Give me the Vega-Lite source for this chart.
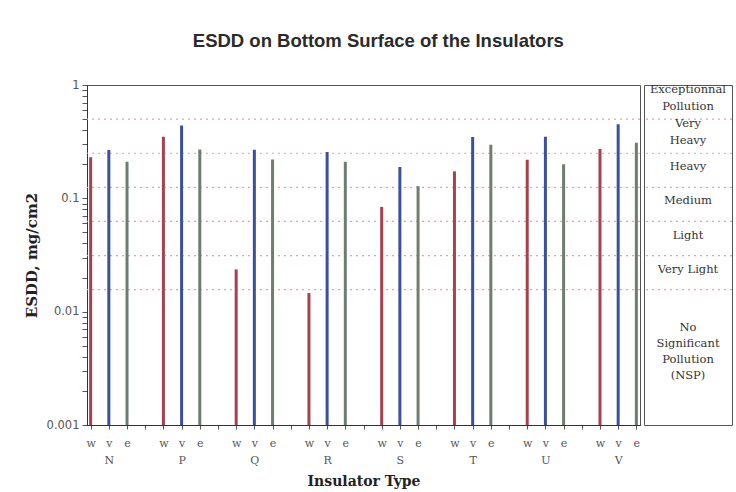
{
  "$schema": "https://vega.github.io/schema/vega-lite/v6.json",
  "padding": {"left": 23, "top": 32, "right": 5, "bottom": 5},
  "background": "white",
  "title": {"text": "ESDD on Bottom Surface of the Insulators", "font": "Liberation Sans", "fontSize": 18.5, "fontWeight": "bold", "color": "#2a2a2a", "anchor": "middle", "offset": 28, "dx": 0},
  "datasets": {
    "esdd": [
      {"insulator": "N", "type": "w", "esdd": 0.23}, {"insulator": "N", "type": "v", "esdd": 0.267}, {"insulator": "N", "type": "e", "esdd": 0.21},
      {"insulator": "P", "type": "w", "esdd": 0.35}, {"insulator": "P", "type": "v", "esdd": 0.44}, {"insulator": "P", "type": "e", "esdd": 0.27},
      {"insulator": "Q", "type": "w", "esdd": 0.0236}, {"insulator": "Q", "type": "v", "esdd": 0.268}, {"insulator": "Q", "type": "e", "esdd": 0.22},
      {"insulator": "R", "type": "w", "esdd": 0.0146}, {"insulator": "R", "type": "v", "esdd": 0.256}, {"insulator": "R", "type": "e", "esdd": 0.21},
      {"insulator": "S", "type": "w", "esdd": 0.084}, {"insulator": "S", "type": "v", "esdd": 0.189}, {"insulator": "S", "type": "e", "esdd": 0.128},
      {"insulator": "T", "type": "w", "esdd": 0.173}, {"insulator": "T", "type": "v", "esdd": 0.348}, {"insulator": "T", "type": "e", "esdd": 0.297},
      {"insulator": "U", "type": "w", "esdd": 0.219}, {"insulator": "U", "type": "v", "esdd": 0.35}, {"insulator": "U", "type": "e", "esdd": 0.2},
      {"insulator": "V", "type": "w", "esdd": 0.272}, {"insulator": "V", "type": "v", "esdd": 0.45}, {"insulator": "V", "type": "e", "esdd": 0.31}
    ],
    "levels": [
      {"level": "Exceptionnal\nPollution", "lines": 2, "lo": 0.5, "hi": 1},
      {"level": "Very\nHeavy", "lines": 2, "lo": 0.25, "hi": 0.5},
      {"level": "Heavy", "lines": 1, "lo": 0.125, "hi": 0.25},
      {"level": "Medium", "lines": 1, "lo": 0.0625, "hi": 0.125},
      {"level": "Light", "lines": 1, "lo": 0.03125, "hi": 0.0625},
      {"level": "Very Light", "lines": 1, "lo": 0.015625, "hi": 0.03125},
      {"level": "No\nSignificant\nPollution\n(NSP)", "lines": 4, "lo": 0.001, "hi": 0.015625}
    ]
  },
  "config": {
    "view": {"stroke": "#555", "strokeWidth": 1},
    "concat": {"spacing": 0},
    "axis": {"grid": false, "domainColor": "#333", "tickColor": "#555", "labelColor": "#555", "titleColor": "#222", "titleFont": "DejaVu Serif", "titleFontWeight": "bold"}
  },
  "hconcat": [
    {
      "width": 553,
      "height": 340,
      "layer": [
        {
          "data": {"name": "levels"},
          "transform": [{"filter": "datum.lo > 0.001"}],
          "mark": {"type": "rule", "color": "#e3a1ab", "strokeDash": [2, 4], "strokeWidth": 1.2},
          "encoding": {
            "y": {"field": "lo", "type": "quantitative", "scale": {"type": "log", "domain": [0.001, 1]}, "title": "ESDD, mg/cm2"}
          }
        },
        {
          "data": {"name": "esdd"},
          "transform": [{"calculate": "datum.insulator + ' ' + datum.type", "as": "slot"}],
          "mark": {"type": "rule", "strokeWidth": 3},
          "encoding": {
            "x": {
              "field": "slot", "type": "nominal", "title": "Insulator Type",
              "scale": {"type": "point", "padding": 0.2, "domain": ["N w","N v","N e","N -","P w","P v","P e","P -","Q w","Q v","Q e","Q -","R w","R v","R e","R -","S w","S v","S e","S -","T w","T v","T e","T -","U w","U v","U e","U -","V w","V v","V e"]},
              "axis": {
                "labelExpr": "split(datum.value,' ')[1] == 'v' ? ['v', split(datum.value,' ')[0]] : (split(datum.value,' ')[1] == '-' ? '' : split(datum.value,' ')[1])",
                "labelAngle": 0, "labelOverlap": false, "labelFlush": false, "labelFont": "DejaVu Serif", "labelFontSize": 11, "labelColor": "#555",
                "labelLineHeight": 17, "labelPadding": 8, "tickSize": 4, "titleFontSize": 14, "titlePadding": 9, "labelBaseline": "top"
              }
            },
            "y": {
              "field": "esdd", "type": "quantitative", "title": "ESDD, mg/cm2",
              "scale": {"type": "log", "domain": [0.001, 1]},
              "axis": {
                "values": [0.001,0.002,0.003,0.004,0.005,0.006,0.007,0.008,0.009,0.01,0.02,0.03,0.04,0.05,0.06,0.07,0.08,0.09,0.1,0.2,0.3,0.4,0.5,0.6,0.7,0.8,0.9,1],
                "labelExpr": "(datum.value == 1 || datum.value == 0.1 || datum.value == 0.01 || datum.value == 0.001) ? format(datum.value, '~g') : ''",
                "labelOverlap": false, "labelFont": "DejaVu Sans", "labelFontSize": 11.5, "labelPadding": 3, "tickSize": 5, "titleFontSize": 15, "titlePadding": 7
              }
            },
            "y2": {"datum": 0.001},
            "color": {"field": "type", "type": "nominal", "scale": {"domain": ["w", "v", "e"], "range": ["#a8404e", "#3b4f9f", "#6e7d72"]}, "legend": null}
          }
        }
      ]
    },
    {
      "width": 88,
      "height": 340,
      "data": {"name": "levels"},
      "transform": [{"calculate": "sqrt(datum.lo * datum.hi)", "as": "mid"}],
      "layer": [
        {
          "transform": [{"filter": "datum.lo > 0.001"}],
          "mark": {"type": "rule", "color": "#e3a1ab", "strokeDash": [2, 4], "strokeWidth": 1.2},
          "encoding": {
            "y": {"field": "lo", "type": "quantitative", "scale": {"type": "log", "domain": [0.001, 1]}, "axis": null}
          }
        },
        {
          "transform": [{"filter": "datum.lines == 1"}],
          "mark": {"type": "text", "font": "DejaVu Serif", "fontSize": 11.5, "color": "#333", "dy": -3},
          "encoding": {
            "y": {"field": "mid", "type": "quantitative", "scale": {"type": "log", "domain": [0.001, 1]}, "axis": null},
            "text": {"field": "level"}
          }
        },
        {
          "transform": [{"filter": "datum.lines == 2"}],
          "mark": {"type": "text", "font": "DejaVu Serif", "fontSize": 11.5, "lineBreak": "\n", "lineHeight": 17, "color": "#333", "dy": -12},
          "encoding": {
            "y": {"field": "mid", "type": "quantitative", "scale": {"type": "log", "domain": [0.001, 1]}, "axis": null},
            "text": {"field": "level"}
          }
        },
        {
          "transform": [{"filter": "datum.lines == 4"}],
          "mark": {"type": "text", "font": "DejaVu Serif", "fontSize": 11.5, "lineBreak": "\n", "lineHeight": 16, "color": "#333", "dy": -29},
          "encoding": {
            "y": {"field": "mid", "type": "quantitative", "scale": {"type": "log", "domain": [0.001, 1]}, "axis": null},
            "text": {"field": "level"}
          }
        }
      ]
    }
  ]
}
